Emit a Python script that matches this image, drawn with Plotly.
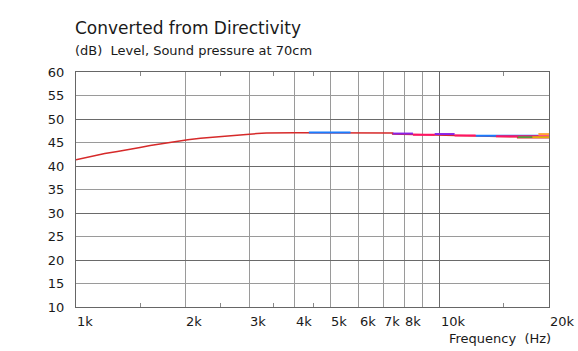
import math
import plotly.graph_objects as go

# ---- data ----
red_freq = [1000, 1060, 1114, 1200, 1300, 1376, 1500, 1600, 1699, 1850, 2030, 2200, 2377, 2600, 2940, 3150, 3340, 4000, 5000, 6000, 7430, 7430, 8450, 9690, 11000, 12570, 14300, 16400, 16400, 20000]
red_level = [41.3, 41.75, 42.2, 42.65, 43.1, 43.5, 43.95, 44.35, 44.7, 45.15, 45.6, 45.9, 46.15, 46.45, 46.7, 46.9, 47.0, 47.05, 47.05, 47.05, 47.0, 46.8, 46.7, 46.65, 46.55, 46.4, 46.3, 46.2, 46.0, 46.0]

# overlaid series, as (start Hz, end Hz, level dB) bands
blue_bands = [(4370, 5690, 47.15), (12570, 18700, 46.45)]
purple_bands = [(7430, 8450, 46.9), (9690, 11000, 46.8)]
pink_bands = [(8450, 9690, 46.65), (11000, 12570, 46.5), (14300, 20000, 46.32)]
green_bands = [(16400, 18000, 46.15)]
yellow_bands = [(18000, 20000, 46.15)]
orange_bands = [(18700, 20000, 46.8)]

x_grid = [1000, 2000, 3000, 4000, 5000, 6000, 7000, 8000, 9000, 20000]
x_grid_major = [10000]
x_minor = [1500, 2500, 3500, 4500, 15000]
x_labels_val = [1000, 2000, 3000, 4000, 5000, 6000, 7000, 8000, 10000, 20000]
x_labels_txt = ["1k", "2k", "3k", "4k", "5k", "6k", "7k", "8k", "10k", "20k"]
y_ticks = [10, 15, 20, 25, 30, 35, 40, 45, 50, 55, 60]
y_major = [10, 20, 30, 40, 50, 60]

FONT = "DejaVu Sans"
TXT = "#1a1a1a"


def bands_xy(bands):
    xs, ys = [], []
    for a, b, v in bands:
        xs += [a, b, None]
        ys += [v, v, None]
    return xs, ys


fig = go.Figure()
fig.add_trace(go.Scatter(x=red_freq, y=red_level, mode="lines",
                         line=dict(color="#d62a2a", width=1.5), xaxis="x", yaxis="y"))
for bands, col, w in [(blue_bands, "#1a7cff", 2), (purple_bands, "#8a22e6", 2),
                      (pink_bands, "#ff1464", 2), (green_bands, "#3cb43c", 1.5),
                      (yellow_bands, "#d8d000", 1.5), (orange_bands, "#ff8c00", 1.5)]:
    xs, ys = bands_xy(bands)
    fig.add_trace(go.Scatter(x=xs, y=ys, mode="lines", line=dict(color=col, width=w),
                             connectgaps=False, xaxis="x", yaxis="y"))

xr = [math.log10(1000), math.log10(20000)]
fig.update_layout(
    width=578, height=351,
    margin=dict(l=76, r=29, t=72, b=44),
    paper_bgcolor="white", plot_bgcolor="white",
    showlegend=False,
    xaxis=dict(type="log", range=xr, showgrid=False, tickvals=x_minor, ticks="inside",
               ticklen=4, tickcolor="#888", showticklabels=False, showline=True,
               linecolor="#666", linewidth=1.2, mirror="ticks", zeroline=False),
    xaxis2=dict(type="log", range=xr, overlaying="x", tickvals=x_grid, showgrid=True,
                gridcolor="#9a9a9a", gridwidth=1, showticklabels=False, ticks=""),
    xaxis3=dict(type="log", range=xr, overlaying="x", tickvals=x_grid_major, showgrid=True,
                gridcolor="#6a6a6a", gridwidth=1, showticklabels=False, ticks=""),
    yaxis=dict(range=[10, 60], tickvals=y_ticks, showgrid=True, gridcolor="#9a9a9a",
               gridwidth=1, ticks="", tickfont=dict(family=FONT, size=13, color=TXT),
               showline=True, linecolor="#666", linewidth=1.2, mirror=True, zeroline=False,
               ticklabelstandoff=8),
    yaxis2=dict(range=[10, 60], overlaying="y", tickvals=y_major, showgrid=True,
                gridcolor="#6a6a6a", gridwidth=1, showticklabels=False, ticks="", zeroline=False),
)
# invisible traces to activate the overlay axes
fig.add_trace(go.Scatter(x=[1000], y=[10], mode="markers", marker=dict(opacity=0),
                         xaxis="x2", yaxis="y2", hoverinfo="skip"))
fig.add_trace(go.Scatter(x=[1000], y=[10], mode="markers", marker=dict(opacity=0),
                         xaxis="x3", yaxis="y2", hoverinfo="skip"))

for v, t in zip(x_labels_val, x_labels_txt):
    fig.add_annotation(x=math.log10(v), xref="x", y=0, yref="paper", text=t, showarrow=False,
                       xanchor="left", yanchor="top", yshift=-5, xshift=-1,
                       font=dict(family=FONT, size=13, color=TXT))
fig.add_annotation(x=1, xref="paper", y=0, yref="paper", text="Frequency  (Hz)",
                   showarrow=False, xanchor="right", yanchor="top", yshift=-22, xshift=4,
                   font=dict(family=FONT, size=13, color=TXT))
fig.add_annotation(x=0, xref="paper", y=1, yref="paper", text="Converted from Directivity",
                   showarrow=False, xanchor="left", yanchor="middle", yshift=44, xshift=-3,
                   font=dict(family=FONT, size=17, color=TXT))
fig.add_annotation(x=0, xref="paper", y=1, yref="paper", text="(dB)  Level, Sound pressure at 70cm",
                   showarrow=False, xanchor="left", yanchor="middle", yshift=22, xshift=-3,
                   font=dict(family=FONT, size=13, color=TXT))

fig.write_html("out.html")
